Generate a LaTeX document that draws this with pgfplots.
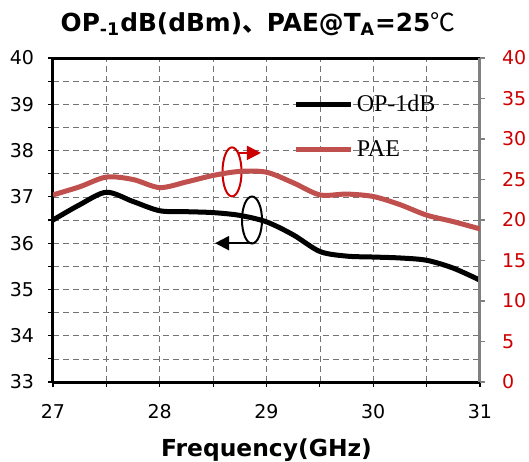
\documentclass[border=0pt]{standalone}
\usepackage{pgfplots}
\pgfplotsset{compat=1.18}
\usepackage{fontspec}
\setmainfont{DejaVu Sans}
\newfontfamily\cjk{Noto Sans CJK SC}
\newfontfamily\legserif{Liberation Serif}
\usetikzlibrary{arrows.meta}
\definecolor{paered}{RGB}{192,80,77}
\definecolor{tickred}{RGB}{204,0,0}
\definecolor{axgray}{RGB}{128,128,128}
\begin{document}
\begin{tikzpicture}
\begin{axis}[
  scale only axis, width=213.5pt, height=162pt,
  xmin=27, xmax=31, ymin=33, ymax=40,
  axis y line*=left,
  xtick={27,28,29,30,31}, ytick={33,34,35,36,37,38,39,40},
  minor x tick num=1, minor y tick num=1,
  xtick pos=bottom,
  tick align=outside,
  major tick length=2.5pt, minor tick length=2.5pt,
  tick style={black, line width=0.6pt},
  axis line style={black, line width=1.5pt},
  grid=both,
  major grid style={densely dashed, black!55, line width=0.35pt},
  minor grid style={densely dashed, black!55, line width=0.35pt},
  xticklabel style={font=\fontsize{9.5}{10}\selectfont, yshift=-5pt},
  yticklabel style={font=\fontsize{9.5}{10}\selectfont, xshift=-3.5pt},
  /pgf/number format/assume math mode=true,
  title={OP\textsubscript{-1}dB(dBm){\cjk 、}PAE@T\textsubscript{A}=25{\cjk\mdseries ℃}},
  title style={font=\fontsize{12.4}{14}\bfseries, at={(axis description cs:0.48,1)}, anchor=base, yshift=7.5pt},
  xlabel={Frequency(GHz)},
  xlabel style={font=\fontsize{11.7}{14}\bfseries, at={(axis description cs:0.5,0)}, anchor=base, yshift=-37pt},
]
\addplot[black, line width=2.5pt, smooth, tension=0.5] coordinates {
(27,36.5) (27.25,36.83) (27.5,37.1) (27.75,36.9) (28,36.7) (28.25,36.68) (28.5,36.66)
(28.75,36.6) (29,36.46) (29.25,36.18) (29.5,35.82) (29.75,35.72) (30,35.70)
(30.25,35.68) (30.5,35.63) (30.75,35.46) (31,35.2)};
\draw[tickred, line width=1pt] (axis cs:28.677,37.54) ellipse [x radius=4.75pt, y radius=12.25pt];
\draw[tickred, line width=1pt, -{Triangle[length=7pt,width=7pt]}] (axis cs:28.733,37.95) -- (axis cs:28.948,37.95);
\draw[black, line width=1pt] (axis cs:28.864,36.50) ellipse [x radius=5pt, y radius=11.75pt];
\draw[black, line width=1pt, -{Triangle[length=7pt,width=7pt]}] (axis cs:28.864,36.0) -- (axis cs:28.518,36.0);
\end{axis}
\begin{axis}[
  scale only axis, width=213.5pt, height=162pt,
  xmin=27, xmax=31, ymin=0, ymax=40,
  axis y line*=right, axis x line=none,
  ytick={0,5,10,15,20,25,30,35,40},
  tick align=outside,
  major tick length=2.5pt,
  ytick style={axgray, line width=0.6pt},
  axis line style={axgray, line width=1.5pt},
  yticklabel style={tickred, font=\fontsize{9.5}{10}\selectfont, xshift=5pt},
  /pgf/number format/assume math mode=true,
  legend style={draw=none, fill=none, inner sep=0pt, at={(axis description cs:0.563,0.90)}, anchor=north west,
    font=\legserif\fontsize{12}{13}\selectfont, row sep=9pt, nodes={inner xsep=1.5pt}},
  legend cell align=left,
  legend image code/.code={\draw[#1] (0pt,0pt) -- (27.5pt,0pt);},
]
\addlegendimage{black, line width=2.5pt}
\addlegendentry{OP-1dB}
\addplot[paered, line width=2.5pt, smooth, tension=0.5] coordinates {
(27,23.1) (27.25,24.1) (27.5,25.3) (27.75,25.0) (28,24.0) (28.25,24.7) (28.5,25.5)
(28.75,26.0) (29,25.9) (29.25,24.6) (29.5,23.1) (29.75,23.2) (30,22.9)
(30.25,21.9) (30.5,20.6) (30.75,19.8) (31,18.9)};
\addlegendentry{PAE}
\end{axis}
\pgfresetboundingbox
\path ([shift={(-26.5pt,-39.5pt)}]current axis.south west) rectangle ([shift={(24.5pt,29pt)}]current axis.north east);
\end{tikzpicture}
\end{document}
